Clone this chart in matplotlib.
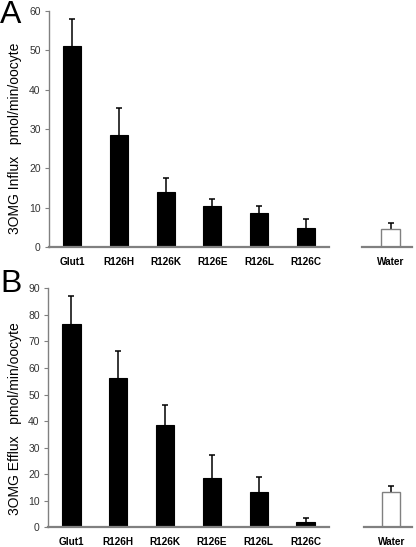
import matplotlib
matplotlib.use("Agg")
import matplotlib.pyplot as plt
import numpy as np

plt.rcParams['font.family'] = ['Liberation Sans', 'DejaVu Sans']

# mutants and control
labels = ["Glut1", "R126H", "R126K", "R126E", "R126L", "R126C"]
water_label = ["Water"]

# panel A: influx
influx = [51.0, 28.5, 14.0, 10.3, 8.7, 4.8]
influx_err = [7.0, 6.8, 3.5, 1.8, 1.8, 2.2]
influx_water = [4.7]
influx_water_err = [1.3]

# panel B: efflux
efflux = [76.5, 56.2, 38.4, 18.4, 13.4, 2.1]
efflux_err = [10.6, 10.2, 7.6, 8.9, 5.5, 1.4]
efflux_water = [13.2]
efflux_water_err = [2.3]

spine_col = "#808080"
fig = plt.figure(figsize=(4.16, 5.47), dpi=100)


def style_axis(ax, show_y):
    for s in ["top", "right"]:
        ax.spines[s].set_visible(False)
    ax.spines["bottom"].set_color(spine_col)
    ax.spines["bottom"].set_linewidth(1.6)
    if show_y:
        ax.spines["left"].set_color(spine_col)
        ax.spines["left"].set_linewidth(1.0)
        ax.tick_params(axis="y", length=3, width=0.8, color=spine_col,
                       labelsize=7.5, labelcolor="#333333", pad=3)
    else:
        ax.spines["left"].set_visible(False)
        ax.set_yticks([])
    ax.tick_params(axis="x", length=0, pad=7, labelsize=7.2)
    for t in ax.get_xticklabels():
        t.set_fontweight("bold")


def panel(rect, wrect, vals, errs, wv, we, ymax, ystep, ylabel, letter, ly, lx_top):
    ax = fig.add_axes(rect)
    x = np.arange(len(labels))
    # symmetric error bars drawn under the bars, so only the upper half shows
    ax.errorbar(x, vals, yerr=errs, fmt="none", ecolor="black",
                elinewidth=1.1, capsize=2.5, capthick=1.1, zorder=1)
    ax.bar(x, vals, width=0.39, color="black", edgecolor="black",
           linewidth=0.8, zorder=2)
    ax.set_xlim(-0.5, len(labels) - 0.5)
    ax.set_ylim(0, ymax)
    ax.set_yticks(np.arange(0, ymax + 1, ystep))
    ax.set_xticks(x)
    ax.set_xticklabels(labels)
    style_axis(ax, True)

    axw = fig.add_axes(wrect)
    axw.errorbar([0], wv, yerr=we, fmt="none", ecolor="black",
                 elinewidth=1.1, capsize=2.5, capthick=1.1, zorder=1)
    axw.bar([0], wv, width=0.38, color="white", edgecolor=spine_col,
            linewidth=1.0, zorder=2)
    axw.set_xlim(-0.57, 0.43)
    axw.set_ylim(0, ymax)
    axw.set_xticks([0])
    axw.set_xticklabels(water_label)
    style_axis(axw, False)

    fig.text(15 / 416, ly, ylabel, rotation=90, ha="center", va="center", fontsize=10)
    fig.text(0.0, lx_top, letter, ha="left", va="top", fontsize=23)
    return ax


panel([49 / 416, 1 - 247 / 547, 280 / 416, 236 / 547],
      [362 / 416, 1 - 247 / 547, 50 / 416, 236 / 547],
      influx, influx_err, influx_water, influx_water_err, 60, 10,
      "3OMG Influx   pmol/min/oocyte", "A", 1 - 138.5 / 547, 1 - 0 / 547)

panel([48 / 416, 1 - 527.3 / 547, 281 / 416, 239 / 547],
      [364 / 416, 1 - 527.3 / 547, 48 / 416, 239 / 547],
      efflux, efflux_err, efflux_water, efflux_water_err, 90, 10,
      "3OMG Efflux   pmol/min/oocyte", "B", 1 - 419 / 547, 1 - 269 / 547)

fig.savefig("out.png", dpi=100)
